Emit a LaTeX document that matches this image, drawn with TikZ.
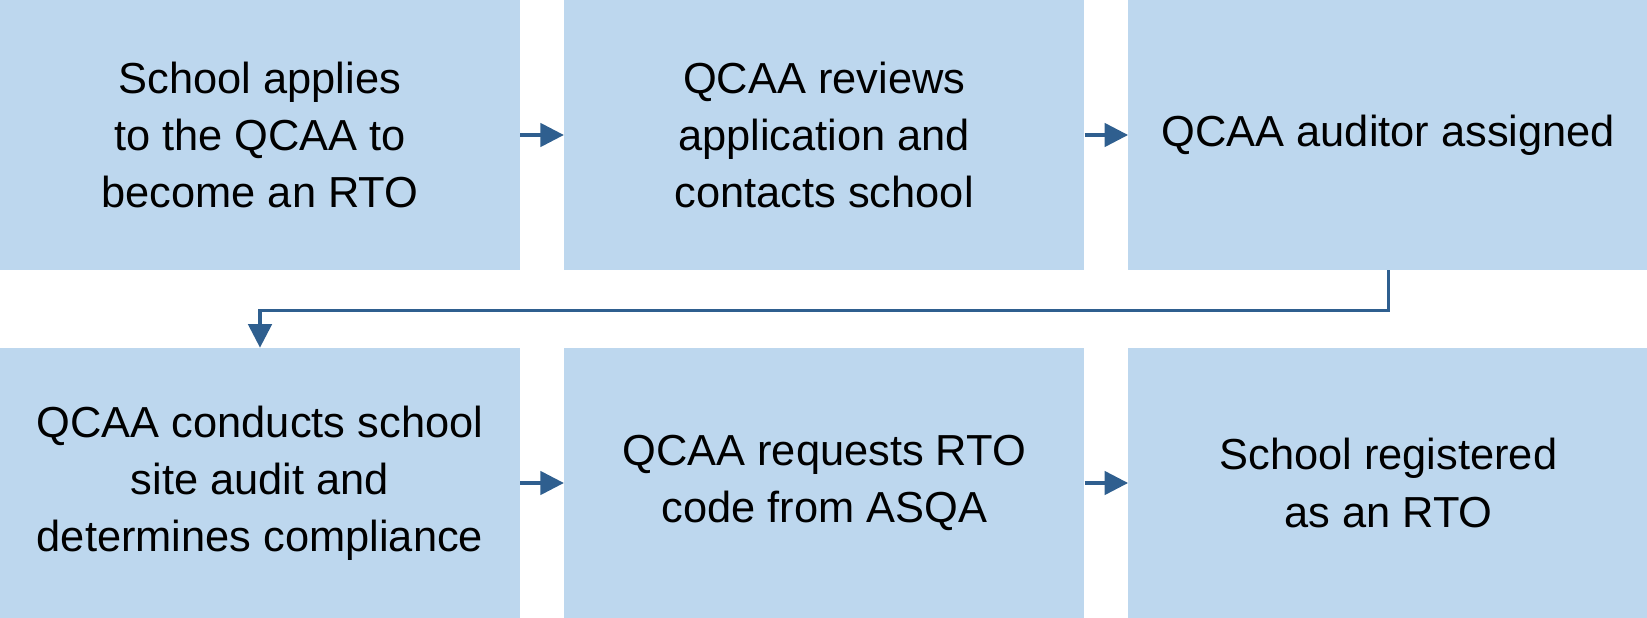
\documentclass[tikz,border=0pt]{standalone}
\usepackage{fontspec}
\setmainfont{Liberation Sans}
\usetikzlibrary{arrows.meta,positioning,calc}
\definecolor{boxblue}{HTML}{BDD7EE}
\definecolor{linkblue}{HTML}{2F5F8F}
\tikzset{stepbox/.style={fill=boxblue, draw=none, minimum width=10.4cm, minimum height=5.4cm,
  align=center, inner sep=0pt, font=\fontsize{24.7}{32.5}\selectfont},
  link/.style={draw=linkblue, line width=0.65mm, -{Triangle[length=4.7mm,width=4.7mm]}}}
\begin{document}
\begin{tikzpicture}[node distance=0.87cm]

    \useasboundingbox (0,0) rectangle (32.94,-12.36);

% first row
    \node[stepbox] (apply) at (5.2,-2.7) {School applies\\to the QCAA to\\become an RTO};
    \node[stepbox, right=of apply] (review) {QCAA reviews\\application and\\contacts school};
    \node[stepbox, right=of review] (auditor) {QCAA auditor assigned};

% second row
    \node[stepbox] (audit) at (5.2,-9.66) {QCAA conducts school\\site audit and\\determines compliance};
    \node[stepbox, right=of audit] (request) {QCAA requests RTO\\code from ASQA};
    \node[stepbox, right=of request] (registered) {School registered\\as an RTO};

    \draw[link] (apply) -- (review);
    \draw[link] (review) -- (auditor);
    \draw[link] (auditor.south) -- ++(0,-0.8) -| (audit.north);
    \draw[link] (audit) -- (request);
    \draw[link] (request) -- (registered);

\end{tikzpicture}
\end{document}
